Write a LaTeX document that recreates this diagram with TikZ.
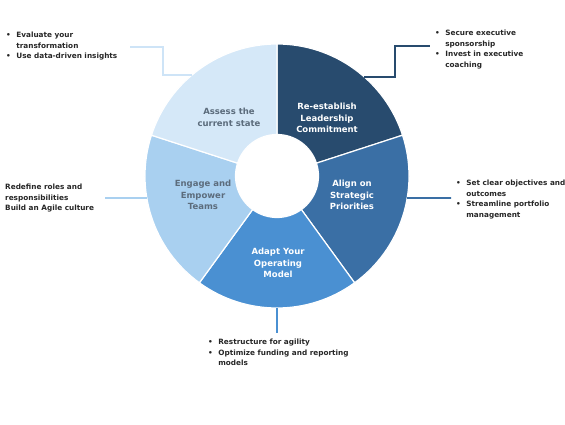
\documentclass[tikz,border=0pt]{standalone}
\usepackage{fontspec}
\setmainfont{DejaVu Sans}
\usetikzlibrary{calc}
\usetikzlibrary{positioning}

\definecolor{navy}{HTML}{284B6E}
\definecolor{midblue}{HTML}{3A6FA5}
\definecolor{brightblue}{HTML}{4A90D2}
\definecolor{paleblue}{HTML}{A9D0F0}
\definecolor{iceblue}{HTML}{D5E8F8}
\definecolor{labelgray}{HTML}{5C6C7C}
\definecolor{textgray}{HTML}{262626}

\tikzset{
  seglabel/.style={align=center, font=\fontsize{8.5}{11.5}\selectfont\bfseries, text=white},
  softlabel/.style={align=center, font=\fontsize{8.5}{11.5}\selectfont\bfseries, text=labelgray},
  bullets/.style={anchor=north west, inner sep=0pt, font=\fontsize{7.3}{10.5}\selectfont\bfseries, text=textgray},
  link/.style={line width=1.6pt}
}

\newcommand{\blist}[1]{\begin{tabular}{@{}l@{\hspace{5.5pt}}l@{}}#1\end{tabular}}

\begin{document}
\begin{tikzpicture}[x=1pt,y=1pt]
  \useasboundingbox (0,0) rectangle (565,424);
  \coordinate (mitte) at (277,248);
  % Ringsegmente
  \foreach \a/\b/\farbe in {18/90/navy,-54/18/midblue,-126/-54/brightblue,162/234/paleblue,90/162/iceblue}
  \filldraw[fill=\farbe,draw=white,line width=1.2pt] ($(mitte)+(\a:132)$) arc[start angle=\a,end angle=\b,radius=132]
    -- ($(mitte)+(\b:41.5)$) arc[start angle=\b,end angle=\a,radius=41.5] -- cycle;

  % Beschriftung der Segmente
  \node[softlabel] (assess) at (229,306.5) {Assess the\\current state};
  \node[seglabel] (leader) at (327,306) {Re-establish\\Leadership\\Commitment};
  \node[seglabel] (align) at (352,229) {Align on\\Strategic\\Priorities};
  \node[seglabel] (adapt) at (278,161) {Adapt Your\\Operating\\Model};
  \node[softlabel] (engage) at (203,229) {Engage and\\Empower\\Teams};

  % Textbloecke
  \node[bullets] (evaluate) at (6,394) {\blist{\textbullet & Evaluate your\\ & transformation\\ \textbullet & Use data-driven insights}};
  \node[bullets] (sponsor) at (435,396) {\blist{\textbullet & Secure executive\\ & sponsorship\\ \textbullet & Invest in executive\\ & coaching}};
  \node[bullets] (objectives) at (456,246) {\blist{\textbullet & Set clear objectives and\\ & outcomes\\ \textbullet & Streamline portfolio\\ & management}};
  \node[bullets] (roles) at (5,242) {\begin{tabular}{@{}l@{}}Redefine roles and\\responsibilities\\Build an Agile culture\end{tabular}};
  \node[bullets] (agility) at (208,87) {\blist{\textbullet & Restructure for agility\\ \textbullet & Optimize funding and reporting\\ & models}};

  % Verbindungslinien
  \foreach \name/\w in {assessRand/130.1,leaderRand/48.6,alignRand/-9.6,adaptRand/-90,engageRand/189.6}
  \coordinate (\name) at ($(mitte)+(\w:132)$);
  \coordinate (assessEnde) at (130,377);
  \coordinate (leaderEnde) at (430,378);
  \coordinate (alignEnde) at (451,226);
  \coordinate (adaptEnde) at (277,91);
  \coordinate (engageEnde) at (105,226);
  \draw[link,iceblue!85!paleblue] (assessRand) -- ++(-29,0) |- (assessEnde);
  \draw[link,navy] (leaderRand) -- ++(31,0) |- (leaderEnde);
  \draw[link,midblue] (alignRand) -- (alignEnde);
  \draw[link,brightblue] (adaptRand) -- (adaptEnde);
  \draw[link,paleblue] (engageRand) -- (engageEnde);
\end{tikzpicture}
\end{document}
